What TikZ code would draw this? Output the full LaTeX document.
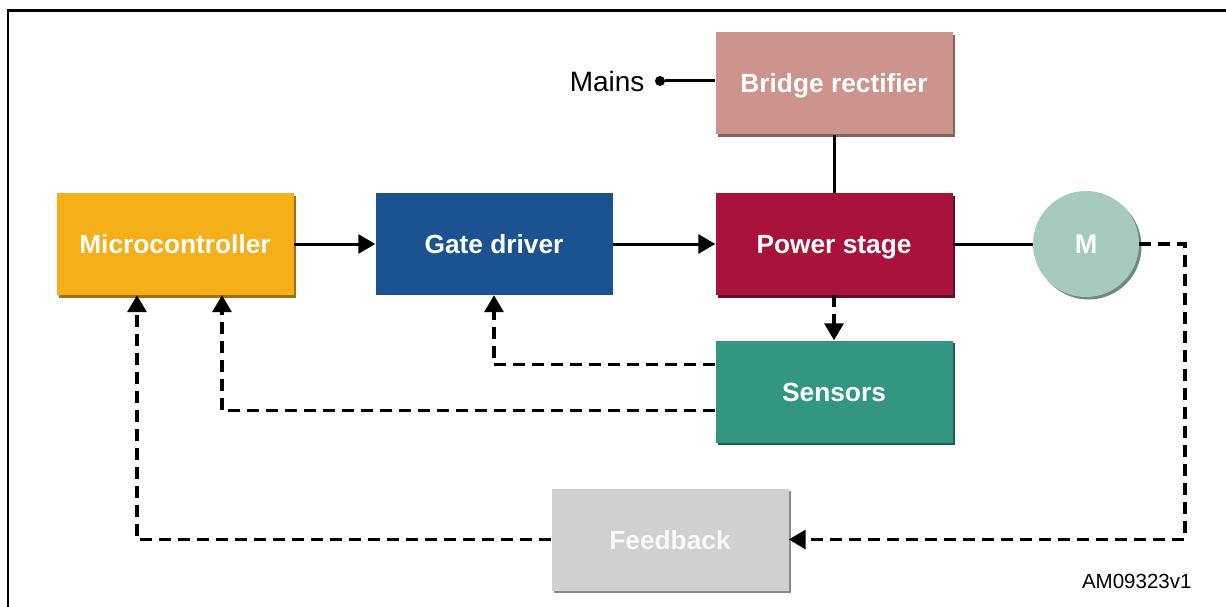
\documentclass[tikz,border=0pt]{standalone}
\usepackage{fontspec}
\setmainfont{Liberation Sans}
\usetikzlibrary{arrows.meta,shadows,calc}
\definecolor{cmc}{HTML}{F5AF19}
\definecolor{cmcd}{HTML}{A07010}
\definecolor{cgd}{HTML}{1B5391}
\definecolor{cps}{HTML}{A8123B}
\definecolor{cpsd}{HTML}{6A0A24}
\definecolor{cbr}{HTML}{CC948C}
\definecolor{cbrd}{HTML}{8A615B}
\definecolor{csn}{HTML}{329682}
\definecolor{csnd}{HTML}{1E5E50}
\definecolor{cm}{HTML}{A6CABD}
\definecolor{cmd}{HTML}{6E8A80}
\definecolor{cfb}{HTML}{D0D0D0}
\definecolor{cfbd}{HTML}{8A8A8A}
\tikzset{
  blk/.style={rectangle, minimum width=237pt, minimum height=102pt, inner sep=0pt,
    text=white, font=\fontsize{26.3}{30}\selectfont\bfseries,
    text height=19pt, text depth=0pt},
  shd/.style={drop shadow={shadow xshift=2.5pt, shadow yshift=-2.5pt, fill=#1, opacity=1}},
  solidarrow/.style={line width=3pt, -{Triangle[length=17pt,width=19pt]}},
  plain/.style={line width=3pt},
  dasharrow/.style={line width=3.3pt, dash pattern=on 12pt off 7pt, -{Triangle[length=17pt,width=19pt]}}
}
\begin{document}
\begin{tikzpicture}[x=1pt,y=-1pt]
\useasboundingbox (0,0) rectangle (1226,607);
\draw[line width=2.8pt] (8,610) -- (8,10.5) -- (1230,10.5);
% blocks
\node[blk, fill=cmc, shd=cmcd] (mc) at (175,244) {Microcontroller};
\node[blk, fill=cgd] (gd) at (494,244) {Gate driver};
\node[blk, fill=cps, shd=cpsd] (ps) at (834,244) {Power stage};
\node[blk, fill=cbr, shd=cbrd] (br) at (834,83.5) {Bridge rectifier};
\node[blk, fill=csn, shd=csnd] (sn) at (834,391.5) {Sensors};
\node[blk, fill=cfb, shd=cfbd, text=white!88!cfb] (fb) at (670,539.5) {Feedback};
\node[circle, minimum size=106pt, inner sep=0pt, fill=cm, shd=cmd, text=white,
  font=\fontsize{27}{30}\selectfont\bfseries, text height=19.4pt, text depth=0pt] (m) at (1086,244) {M};
% mains
\node[circle, fill=black, inner sep=0pt, minimum size=10pt] (dot) at (660,81) {};
\node[anchor=east, font=\fontsize{28}{32}\selectfont] (mains) at (648,81) {Mains};
\draw[plain] (dot) -- (dot -| br.west);
\node[font=\fontsize{20.5}{24}\selectfont, anchor=east] (id) at (1195,581) {AM09323v1};
% connectors
\draw[solidarrow] (mc) -- (gd);
\draw[solidarrow] (gd) -- (ps);
\draw[plain] (br) -- (ps);
\draw[plain] (ps.east) -- (m.west);
\coordinate (c1) at (1185,244);
\draw[dasharrow] (m.east) -- (c1) |- (fb.east);
\draw[dasharrow] (ps) -- (sn);
\draw[dasharrow] ([yshift=27pt]sn.west) -| (gd.south);
\draw[dasharrow] ([yshift=-19pt]sn.west) -| ([xshift=47pt]mc.south);
\draw[dasharrow] (fb.west) -| ([xshift=-38pt]mc.south);
\end{tikzpicture}
\end{document}
